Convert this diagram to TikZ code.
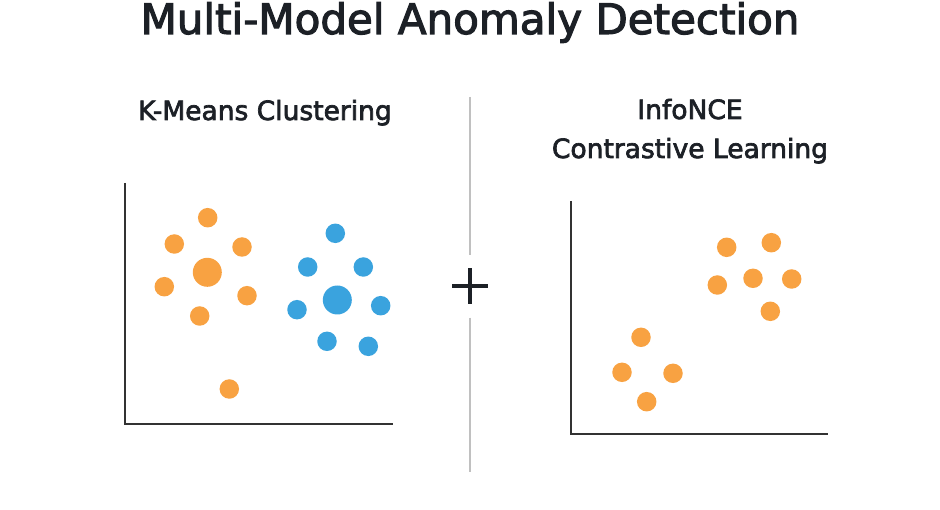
\documentclass[tikz,border=0pt]{standalone}
\usepackage{fontspec}
\setmainfont{DejaVu Sans}
\newfontfamily\medfont[FakeBold=2.6]{DejaVu Sans}
\usepackage{xcolor}
\usetikzlibrary{positioning}
\definecolor{dotorange}{RGB}{248,162,66}
\definecolor{dotblue}{RGB}{58,163,222}
\definecolor{inkdark}{RGB}{28,32,38}
\definecolor{axisgrey}{RGB}{50,50,50}
\definecolor{divgrey}{RGB}{192,192,192}

\begin{document}
\begin{tikzpicture}[x=1pt, y=-1pt,
    dot/.style={circle, fill=dotorange, inner sep=0pt, minimum size=19.5pt},
    bluedot/.style={dot, fill=dotblue},
    centroid/.style={minimum size=29pt},
    axis/.style={line width=2pt, draw=axisgrey},
    divline/.style={line width=1.5pt, draw=divgrey},
    plusline/.style={line width=3.3pt, draw=inkdark},
    title/.style={font=\medfont\fontsize{42}{48}\selectfont, text=inkdark, anchor=base},
    head/.style={font=\medfont\fontsize{26.5}{39}\selectfont, text=inkdark,
                 align=center, anchor=base},
  ]
  \useasboundingbox (0,0) rectangle (940,510);

  % --- Title ---
  \node[title] (title) at (470,34) {Multi-Model Anomaly Detection};

  % --- Left panel: K-Means ---
  \node[head] (kmhead) at (265,120) {K-Means Clustering};
  \coordinate (kmtop) at (125,183);
  \coordinate (kmorig) at (125,424);
  \coordinate (kmend) at (393,424);
  \draw[axis] (kmtop) -- (kmorig) -- (kmend);
  \foreach \x/\y [count=\i] in {207.7/217.7, 174.3/244, 242/247, 164.3/286.7,
                                247/295.7, 199.7/316, 229.3/389}
    \node[dot] (ko\i) at (\x,\y) {};
  \node[dot, centroid] (kocent) at (207.3,272.3) {};
  \foreach \x/\y [count=\i] in {335.3/233.3, 307.7/267, 363.3/267, 297/309.7,
                                380.7/305.7, 327/341.3, 368.3/346.3}
    \node[bluedot] (kb\i) at (\x,\y) {};
  \node[bluedot, centroid] (kbcent) at (337.3,300) {};

  % --- Divider with plus ---
  \node[minimum size=35pt, inner sep=0pt] (plus) at (470,286) {};
  \draw[plusline] (plus.west) -- (plus.east) (plus.north) -- (plus.south);
  \coordinate (divtop) at (470,97);
  \coordinate (divbot) at (470,472);
  \draw[divline] (divtop) -- ([yshift=13pt]plus.north);
  \draw[divline] ([yshift=-14pt]plus.south) -- (divbot);

  % --- Right panel: InfoNCE ---
  \node[head] (nchead) at (690,158) {InfoNCE\\Contrastive Learning};
  \coordinate (nctop) at (571,201);
  \coordinate (ncorig) at (571,434);
  \coordinate (ncend) at (828,434);
  \draw[axis] (nctop) -- (ncorig) -- (ncend);
  \foreach \x/\y [count=\i] in {726.7/247.3, 771.3/242.7, 717.3/285, 753/278.3,
                                791.7/279, 770.3/311.3, 641/337.3, 622/372.3,
                                673/373.3, 646.7/401.7}
    \node[dot] (nc\i) at (\x,\y) {};
\end{tikzpicture}
\end{document}
